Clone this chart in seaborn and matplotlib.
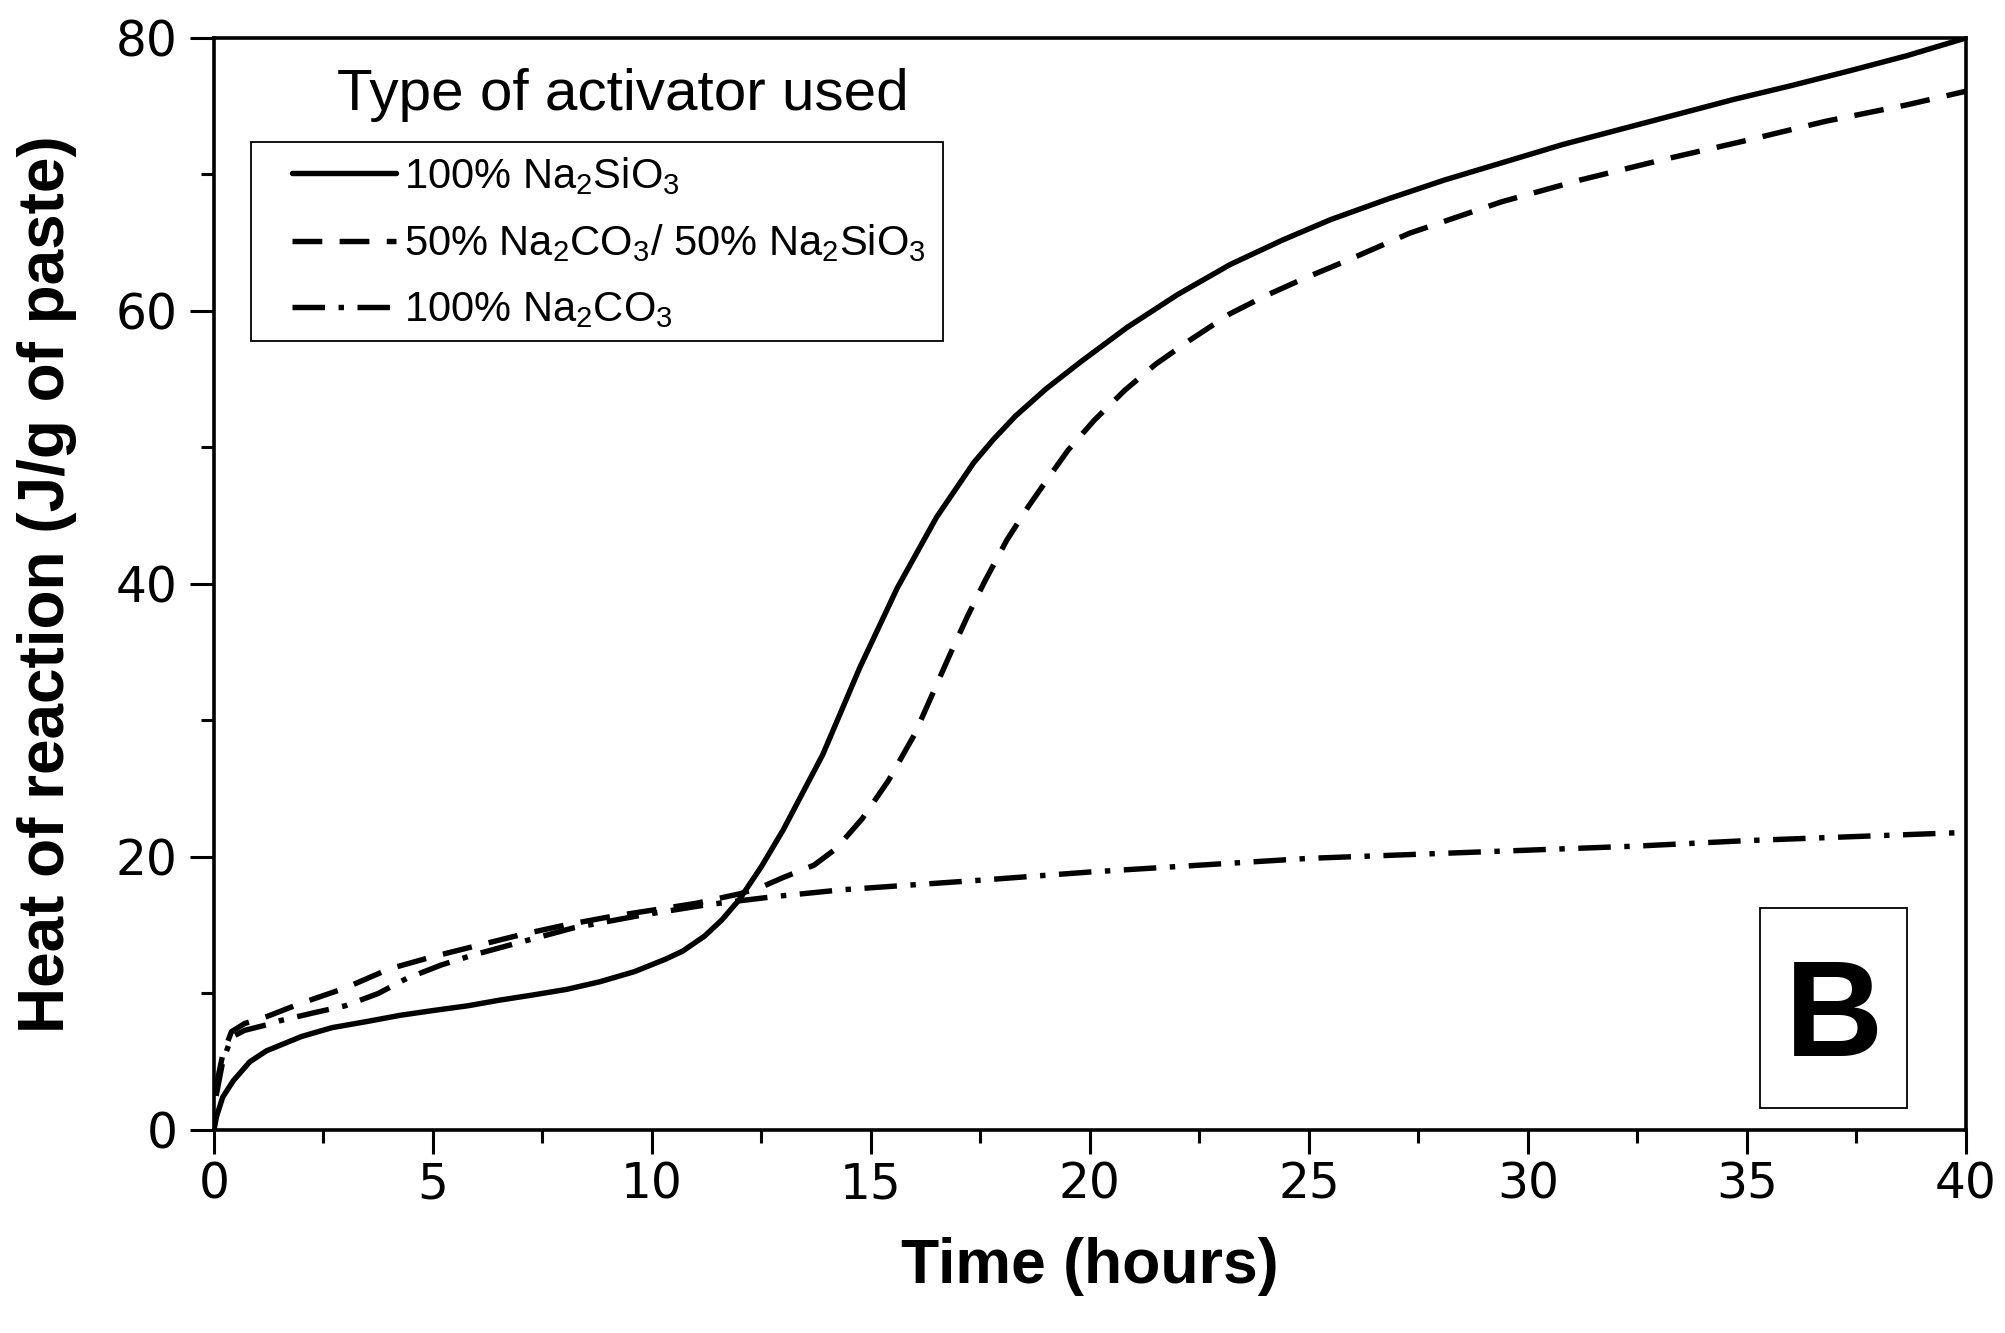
import pandas as pd
import numpy as np
import seaborn as sns
import matplotlib.pyplot as plt
from matplotlib.patches import Rectangle
from matplotlib.ticker import MultipleLocator

# 100% Na2SiO3
time_sil = [0, 0.06, 0.2, 0.44, 0.82, 1.2, 2.0, 2.7, 3.5, 4.25, 5.0, 5.8, 6.5, 7.3, 8.05, 8.8,
            9.6, 10.3, 10.7, 11.2, 11.6, 12.0, 12.5, 13.0, 13.9, 14.75, 15.6, 16.5, 17.35, 17.8,
            18.3, 19.0, 19.8, 20.85, 22.0, 23.2, 24.4, 25.5, 26.8, 28.1, 29.45, 30.8, 32.1, 33.4,
            34.7, 36.0, 37.35, 38.65, 40.0]
heat_sil = [0, 1.0, 2.4, 3.6, 5.0, 5.8, 6.85, 7.5, 7.95, 8.4, 8.75, 9.1, 9.5, 9.9, 10.3, 10.85,
            11.6, 12.5, 13.1, 14.2, 15.4, 16.9, 19.3, 22.0, 27.5, 33.9, 39.7, 44.9, 48.9, 50.6,
            52.3, 54.3, 56.3, 58.8, 61.2, 63.4, 65.2, 66.7, 68.2, 69.6, 70.9, 72.2, 73.3, 74.4,
            75.5, 76.5, 77.6, 78.7, 80.0]

# 50% Na2CO3 / 50% Na2SiO3
time_mix = [0.05, 0.2, 0.4, 0.7, 1.2, 2.0, 3.0, 4.0, 5.0, 6.0, 7.0, 8.0, 9.0, 10.0, 11.0, 12.0,
            12.5, 13.0, 13.7, 14.2, 14.8, 15.4, 16.0, 16.4, 16.8, 17.2, 17.6, 18.1, 18.6, 19.1,
            19.5, 20.1, 20.8, 21.5, 22.3, 23.2, 24.0, 24.9, 25.8, 27.3, 29.4, 31.2, 33.1, 35.0,
            36.8, 38.65, 40.0]
heat_mix = [3.2, 5.5, 7.2, 7.8, 8.3, 9.3, 10.4, 11.8, 12.7, 13.5, 14.3, 15.0, 15.6, 16.1, 16.6, 17.3,
            17.8, 18.5, 19.4, 20.6, 22.8, 25.6, 29.0, 31.9, 34.8, 37.6, 40.2, 43.2, 45.7, 48.0,
            49.8, 52.0, 54.2, 56.1, 57.9, 59.8, 61.1, 62.4, 63.6, 65.7, 68.0, 69.6, 71.1, 72.5,
            73.9, 75.1, 76.1]

# 100% Na2CO3
time_carb = [0.05, 0.2, 0.4, 0.7, 1.2, 1.5, 2.3, 3.0, 3.75, 4.4, 5.2, 5.9, 6.7, 8.2, 9.7, 11.25,
             12.8, 14.35, 17.5, 20.0, 22.5, 25.0, 27.5, 30.0, 32.5, 35.0, 37.5, 40.0]
heat_carb = [2.5, 5.0, 6.8, 7.3, 7.7, 8.0, 8.6, 9.1, 10.0, 11.1, 12.1, 12.8, 13.5, 14.8, 15.7, 16.5,
             17.1, 17.6, 18.3, 18.9, 19.4, 19.9, 20.2, 20.5, 20.8, 21.2, 21.5, 21.8]

labels = [r'100% Na$_\mathregular{2}$SiO$_\mathregular{3}$',
          r'50% Na$_\mathregular{2}$CO$_\mathregular{3}$/ 50% Na$_\mathregular{2}$SiO$_\mathregular{3}$',
          r'100% Na$_\mathregular{2}$CO$_\mathregular{3}$']

df = pd.concat([
    pd.DataFrame({'time': time_sil, 'heat': heat_sil, 'activator': labels[0]}),
    pd.DataFrame({'time': time_mix, 'heat': heat_mix, 'activator': labels[1]}),
    pd.DataFrame({'time': time_carb, 'heat': heat_carb, 'activator': labels[2]}),
], ignore_index=True)

sns.set_style('ticks')
plt.rcParams['font.family'] = ['Liberation Sans', 'DejaVu Sans']
plt.rcParams['text.color'] = 'black'
plt.rcParams['axes.labelcolor'] = 'black'
plt.rcParams['xtick.color'] = 'black'
plt.rcParams['ytick.color'] = 'black'

fig = plt.figure(figsize=(20.05, 13.33), dpi=100)
ax = fig.add_axes([0.1067, 0.1523, 0.8738, 0.8192])

sns.lineplot(data=df, x='time', y='heat', hue='activator', style='activator',
             hue_order=labels, style_order=labels,
             palette={l: 'black' for l in labels},
             dashes={labels[0]: '', labels[1]: (5.5, 3.2), labels[2]: (6, 2.5, 1, 2.5)},
             linewidth=3.9, estimator=None, legend=False, ax=ax)

ax.set_xlim(0, 40)
ax.set_ylim(0, 80)
ax.xaxis.set_major_locator(MultipleLocator(5))
ax.xaxis.set_minor_locator(MultipleLocator(2.5))
ax.yaxis.set_major_locator(MultipleLocator(20))
ax.yaxis.set_minor_locator(MultipleLocator(10))
ax.tick_params(which='major', direction='out', length=17, width=2.2, color='black')
ax.tick_params(which='minor', direction='out', length=9.5, width=2.2, color='black')
ax.tick_params(axis='x', which='major', pad=5)
ax.tick_params(axis='y', which='major', pad=9)
for lab in ax.get_xticklabels() + ax.get_yticklabels():
    lab.set_fontsize(35)
    lab.set_family('DejaVu Sans')
    lab.set_color('black')

for sp in ax.spines.values():
    sp.set_visible(True)
    sp.set_linewidth(2.6)
    sp.set_color('black')

ax.set_xlabel('Time (hours)', fontsize=45, fontweight='bold')
ax.set_ylabel('Heat of reaction (J/g of paste)', fontsize=46, fontweight='bold')
ax.xaxis.set_label_coords(0.5, -0.098)
ax.yaxis.set_label_coords(-0.078, 0.5)

# legend: title above, frame drawn separately
ax.text(0.2336, 0.948, 'Type of activator used', transform=ax.transAxes,
        ha='center', va='center', fontsize=42)
ax.add_patch(Rectangle((0.0212, 0.7225), 0.3949, 0.1825, transform=ax.transAxes,
                       fill=False, edgecolor='black', linewidth=1.3))
handles = ax.get_lines()[:3]
leg = ax.legend(handles, labels, loc='upper left', bbox_to_anchor=(0.0445, 0.893),
                borderaxespad=0, borderpad=0, frameon=False,
                prop={'size': 30}, handlelength=2.5, handletextpad=0.2,
                labelspacing=0.62)

# panel letter
ax.add_patch(Rectangle((0.8825, 0.0199), 0.0839, 0.1838, transform=ax.transAxes,
                       fill=False, edgecolor='black', linewidth=1.3))
ax.text(0.9245, 0.100, 'B', transform=ax.transAxes, ha='center', va='center',
        fontsize=98, fontweight='bold')

plt.savefig('out.png', dpi=100)
